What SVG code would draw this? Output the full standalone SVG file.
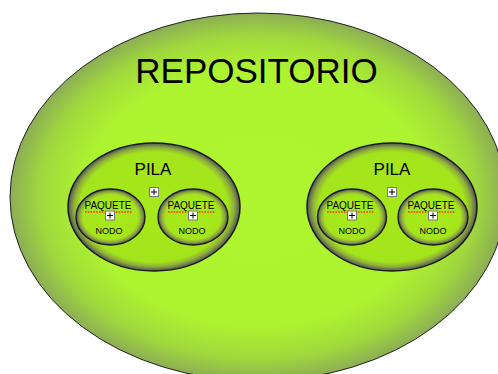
<svg xmlns="http://www.w3.org/2000/svg" width="498" height="374" viewBox="0 0 498 374">
  <defs>
    <radialGradient id="gOuter" cx="0.5" cy="0.5" r="0.5">
      <stop offset="0" stop-color="#aef42f"/>
      <stop offset="0.7" stop-color="#adf430"/>
      <stop offset="0.88" stop-color="#a0d83d"/>
      <stop offset="1" stop-color="#8cae55"/>
    </radialGradient>
    <radialGradient id="gPila" cx="0.5" cy="0.5" r="0.5">
      <stop offset="0" stop-color="#a6e81a"/>
      <stop offset="0.86" stop-color="#a4e41c"/>
      <stop offset="0.93" stop-color="#8fb038"/>
      <stop offset="1" stop-color="#50545c"/>
    </radialGradient>
    <radialGradient id="gPaq" cx="0.5" cy="0.5" r="0.5">
      <stop offset="0" stop-color="#a8ea1a"/>
      <stop offset="0.8" stop-color="#a5e51c"/>
      <stop offset="0.9" stop-color="#8eaa3c"/>
      <stop offset="1" stop-color="#50545c"/>
    </radialGradient>
    <g id="plus">
      <rect x="-4.5" y="-4.5" width="9" height="9" fill="#ffffff" stroke="#777" stroke-width="1"/>
      <path d="M-3 0H3M0 -3V3" stroke="#000" stroke-width="1"/>
    </g>
  </defs>
  <style>
    text { font-family: "Liberation Sans", Arial, sans-serif; fill: #000; text-anchor: middle; }
    .outer { fill: url(#gOuter); stroke: #222; stroke-width: 1; }
    .pila { fill: url(#gPila); stroke: #1a1a1a; stroke-width: 1.5; }
    .paq { fill: url(#gPaq); stroke: #1a1a1a; stroke-width: 1.4; }
    .t-repo { font-size: 35px; }
    .t-pila { font-size: 17px; }
    .t-paq { font-size: 10px; }
    .t-nodo { font-size: 9px; }
    .squig { stroke: #ff3300; stroke-width: 1.3; stroke-dasharray: 1.6 1.2; fill: none; }
  </style>

  <g id="repositorio">
    <ellipse class="outer" cx="258" cy="197" rx="248" ry="184"/>
    <text class="t-repo" x="256.5" y="83">REPOSITORIO</text>
  </g>

  <g id="pila-1">
    <ellipse class="pila" cx="154" cy="207" rx="86" ry="64"/>
    <text class="t-pila" x="153" y="175">PILA</text>
    <use href="#plus" x="154" y="192"/>
  </g>
  <g id="paquete-1">
    <ellipse class="paq" cx="110.5" cy="217" rx="34.5" ry="28"/>
    <text class="t-paq" x="108" y="209">PAQUETE</text>
    <line class="squig" x1="85" y1="212" x2="132" y2="212"/>
    <use href="#plus" x="110" y="215.5"/>
    <text class="t-nodo" x="109" y="234">NODO</text>
  </g>
  <g id="paquete-2">
    <ellipse class="paq" cx="193" cy="217" rx="35" ry="28"/>
    <text class="t-paq" x="191" y="209">PAQUETE</text>
    <line class="squig" x1="168" y1="212" x2="215" y2="212"/>
    <use href="#plus" x="193" y="215.5"/>
    <text class="t-nodo" x="192" y="234">NODO</text>
  </g>

  <g id="pila-2">
    <ellipse class="pila" cx="392" cy="207" rx="85" ry="64"/>
    <text class="t-pila" x="392" y="175">PILA</text>
    <use href="#plus" x="392" y="192"/>
  </g>
  <g id="paquete-3">
    <ellipse class="paq" cx="352" cy="217" rx="34.5" ry="28"/>
    <text class="t-paq" x="350" y="209">PAQUETE</text>
    <line class="squig" x1="327" y1="212" x2="374" y2="212"/>
    <use href="#plus" x="352" y="215.5"/>
    <text class="t-nodo" x="352" y="234">NODO</text>
  </g>
  <g id="paquete-4">
    <ellipse class="paq" cx="433" cy="217" rx="35" ry="28"/>
    <text class="t-paq" x="431" y="209">PAQUETE</text>
    <line class="squig" x1="408" y1="212" x2="455" y2="212"/>
    <use href="#plus" x="433" y="215.5"/>
    <text class="t-nodo" x="433" y="234">NODO</text>
  </g>
</svg>
